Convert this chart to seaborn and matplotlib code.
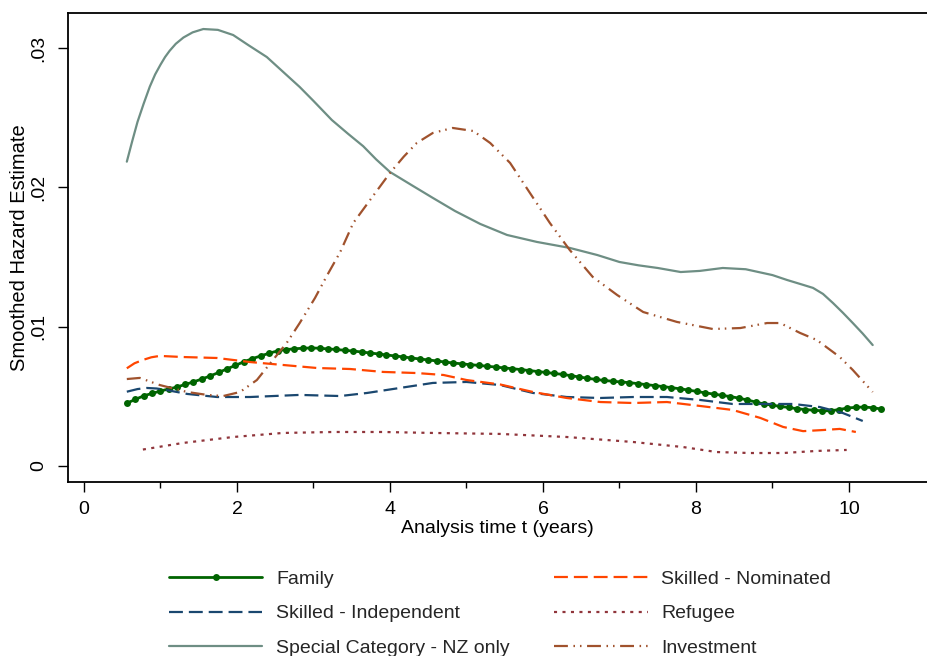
import matplotlib
matplotlib.use("Agg")
import matplotlib.pyplot as plt
import seaborn as sns
import pandas as pd

# Smoothed hazard estimates by visa category (time in years)
family_t = [0.56, 0.67, 0.78, 0.89, 1.00, 1.11, 1.22, 1.32, 1.43, 1.54,
            1.65, 1.76, 1.87, 1.98, 2.09, 2.20, 2.31, 2.42, 2.53, 2.64,
            2.75, 2.86, 2.97, 3.08, 3.19, 3.30, 3.41, 3.52, 3.63, 3.74,
            3.85, 3.95, 4.06, 4.17, 4.28, 4.39, 4.50, 4.61, 4.72, 4.83,
            4.94, 5.05, 5.16, 5.27, 5.38, 5.49, 5.60, 5.71, 5.82, 5.93,
            6.04, 6.15, 6.26, 6.37, 6.47, 6.58, 6.69, 6.80, 6.91, 7.02,
            7.13, 7.24, 7.35, 7.46, 7.57, 7.68, 7.79, 7.90, 8.01, 8.12,
            8.23, 8.34, 8.45, 8.56, 8.67, 8.78, 8.89, 9.00, 9.10, 9.21,
            9.32, 9.43, 9.54, 9.65, 9.76, 9.87, 9.98, 10.09, 10.20, 10.31,
            10.42]
family_h = [0.00450, 0.00478, 0.00503, 0.00521, 0.00538, 0.00553, 0.00567, 0.00585, 0.00603, 0.00624,
            0.00646, 0.00671, 0.00697, 0.00722, 0.00748, 0.00770, 0.00790, 0.00809, 0.00826, 0.00835,
            0.00841, 0.00845, 0.00847, 0.00845, 0.00840, 0.00836, 0.00830, 0.00825, 0.00818, 0.00811,
            0.00804, 0.00797, 0.00790, 0.00783, 0.00775, 0.00768, 0.00761, 0.00754, 0.00746, 0.00739,
            0.00733, 0.00727, 0.00722, 0.00716, 0.00710, 0.00704, 0.00698, 0.00692, 0.00685, 0.00678,
            0.00671, 0.00664, 0.00657, 0.00648, 0.00639, 0.00630, 0.00621, 0.00614, 0.00608, 0.00603,
            0.00598, 0.00591, 0.00584, 0.00577, 0.00570, 0.00562, 0.00554, 0.00545, 0.00535, 0.00525,
            0.00516, 0.00507, 0.00498, 0.00487, 0.00474, 0.00459, 0.00445, 0.00436, 0.00428, 0.00420,
            0.00411, 0.00405, 0.00400, 0.00396, 0.00396, 0.00405, 0.00416, 0.00421, 0.00423, 0.00418,
            0.00409]

nominated_t = [0.56, 0.66, 0.77, 0.88, 0.99, 1.29, 1.74, 2.17, 2.60, 3.05, 3.48, 3.91, 4.35, 4.70,
               5.00, 5.44, 5.87, 6.31, 6.75, 7.18, 7.62, 8.05, 8.48, 8.84, 9.14, 9.40, 9.66,
               9.88, 10.09]
nominated_h = [0.00701, 0.00737, 0.00761, 0.00780, 0.00790, 0.00782, 0.00775, 0.00746, 0.00725,
               0.00703, 0.00696, 0.00675, 0.00667, 0.00653, 0.00617, 0.00585, 0.00531, 0.00488,
               0.00459, 0.00452, 0.00459, 0.00431, 0.00402, 0.00345, 0.00280, 0.00250, 0.00258,
               0.00266, 0.00244]

independent_t = [0.56, 0.70, 0.82, 0.95, 1.08, 1.35, 1.74, 2.17, 2.82, 3.35, 3.70, 4.13, 4.56,
                 5.00, 5.44, 5.87, 6.31, 6.75, 7.18, 7.62, 8.05, 8.48, 8.93, 9.27, 9.62, 9.92,
                 10.18]
independent_h = [0.00533, 0.00552, 0.00560, 0.00556, 0.00545, 0.00517, 0.00495, 0.00495, 0.00510,
                 0.00502, 0.00524, 0.00560, 0.00596, 0.00603, 0.00581, 0.00524, 0.00495, 0.00488,
                 0.00495, 0.00495, 0.00474, 0.00445, 0.00445, 0.00445, 0.00423, 0.00380, 0.00323]

refugee_t = [0.77, 1.29, 1.95, 2.60, 3.26, 3.91, 4.56, 5.44, 6.31, 7.18, 7.83, 8.27, 8.71,
             9.14, 9.58, 9.97]
refugee_h = [0.00118, 0.00165, 0.00208, 0.00237, 0.00244, 0.00244, 0.00237, 0.00230, 0.00208,
             0.00172, 0.00136, 0.00100, 0.00093, 0.00093, 0.00108, 0.00115]

special_t = [0.56, 0.63, 0.70, 0.78, 0.86, 0.93, 1.00, 1.06, 1.12, 1.20, 1.30, 1.42, 1.56,
             1.75, 1.95, 2.15, 2.39, 2.60, 2.82, 3.00, 3.24, 3.45, 3.65, 3.82, 4.00, 4.30,
             4.56, 4.85, 5.18, 5.53, 5.92, 6.35, 6.71, 7.00, 7.25, 7.50, 7.80, 8.05, 8.35,
             8.65, 9.00, 9.19, 9.40, 9.53, 9.66, 9.79, 9.92, 10.05, 10.18, 10.31]
special_h = [0.02184, 0.02330, 0.02470, 0.02600, 0.02722, 0.02810, 0.02880, 0.02935, 0.02980,
             0.03030, 0.03075, 0.03112, 0.03136, 0.03130, 0.03093, 0.03020, 0.02935, 0.02830,
             0.02720, 0.02620, 0.02483, 0.02385, 0.02295, 0.02200, 0.02110, 0.02010, 0.01924,
             0.01830, 0.01737, 0.01658, 0.01608, 0.01565, 0.01514, 0.01464, 0.01440, 0.01421,
             0.01392, 0.01400, 0.01421, 0.01412, 0.01370, 0.01335, 0.01300, 0.01278, 0.01235,
             0.01170, 0.01100, 0.01026, 0.00950, 0.00868]

investment_t = [0.56, 0.73, 0.99, 1.35, 1.61, 1.82, 2.04, 2.26, 2.47, 2.65, 2.82, 3.02, 3.18,
                3.35, 3.52, 3.74, 4.00, 4.18, 4.35, 4.56, 4.82, 5.09, 5.31, 5.57, 5.83, 6.09,
                6.35, 6.65, 6.97, 7.31, 7.75, 8.22, 8.58, 8.93, 9.10, 9.36, 9.58, 9.88, 10.05,
                10.31]
investment_h = [0.00624, 0.00632, 0.00581, 0.00531, 0.00510, 0.00502, 0.00531, 0.00617, 0.00761,
                0.00883, 0.01026, 0.01206, 0.01370, 0.01536, 0.01744, 0.01909, 0.02103, 0.02220,
                0.02318, 0.02390, 0.02426, 0.02404, 0.02318, 0.02175, 0.01959, 0.01744, 0.01550,
                0.01357, 0.01227, 0.01105, 0.01034, 0.00983, 0.00990, 0.01026, 0.01026, 0.00955,
                0.00904, 0.00782, 0.00689, 0.00531]

x_ticks = [0, 2, 4, 6, 8, 10]
y_ticks = [0, 0.01, 0.02, 0.03]
y_tick_labels = ["0", ".01", ".02", ".03"]

sns.set_theme(style="white")
plt.rcParams["font.family"] = ["Liberation Sans", "DejaVu Sans"]
plt.rcParams["lines.scale_dashes"] = False

fig = plt.figure(figsize=(9.27, 6.56), dpi=100)
ax = fig.add_axes([0.07335, 0.26524, 0.92665, 0.71494])

series = [
    ("Family", family_t, family_h, "#006400", "-", "o"),
    ("Skilled - Independent", independent_t, independent_h, "#1a476f", (0, (10, 4.3)), None),
    ("Special Category - NZ only", special_t, special_h, "#6e8e84", "-", None),
    ("Skilled - Nominated", nominated_t, nominated_h, "#ff4500", (0, (10, 4.3)), None),
    ("Refugee", refugee_t, refugee_h, "#90353b", (0, (2.2, 3.9)), None),
    ("Investment", investment_t, investment_h, "#a0522d", (0, (10, 4, 1.1, 3.6, 1.1, 4)), None),
]

for name, t, h, color, ls, marker in series:
    df = pd.DataFrame({"t": t, "h": h})
    if marker:
        kw = dict(marker=marker, markersize=5.0, markeredgewidth=0, linewidth=2.0)
    else:
        kw = dict(linewidth=1.6)
    sns.lineplot(data=df, x="t", y="h", ax=ax, color=color, linestyle=ls,
                 label=name, legend=False, **kw)

ax.set_xlim(-0.209, 11.02)
ax.set_ylim(-0.00115, 0.03251)
ax.set_xticks(x_ticks)
ax.set_xticks([1, 3, 5, 7, 9], minor=True)
ax.set_yticks(y_ticks)
ax.set_yticklabels(y_tick_labels, rotation=90, va="center")
ax.tick_params(axis="both", which="major", length=7, width=1.0, color="black",
               labelsize=14, labelcolor="black", direction="out")
ax.tick_params(axis="x", which="major", pad=6.5)
ax.tick_params(axis="y", which="major", pad=8)
ax.tick_params(axis="x", which="minor", length=4, width=1.0, color="black",
               direction="out", bottom=True)
ax.tick_params(left=True, bottom=True)

for side in ["left", "top", "bottom"]:
    ax.spines[side].set_color("black")
    ax.spines[side].set_linewidth(1.3)
ax.spines["right"].set_visible(False)

ax.set_xlabel("Analysis time t (years)", fontsize=14, color="black", labelpad=1.5)
ax.set_ylabel("Smoothed Hazard Estimate", fontsize=14.5, color="black", labelpad=0.5)

handles, labels = ax.get_legend_handles_labels()
fig.legend(handles, labels, ncol=2, loc="upper center",
           bbox_to_anchor=(500 / 927, (656 - 553) / 656), frameon=False,
           fontsize=14, handlelength=4.8, handletextpad=0.7,
           columnspacing=2.3, labelspacing=0.86)

fig.savefig("out.png", dpi=100)
